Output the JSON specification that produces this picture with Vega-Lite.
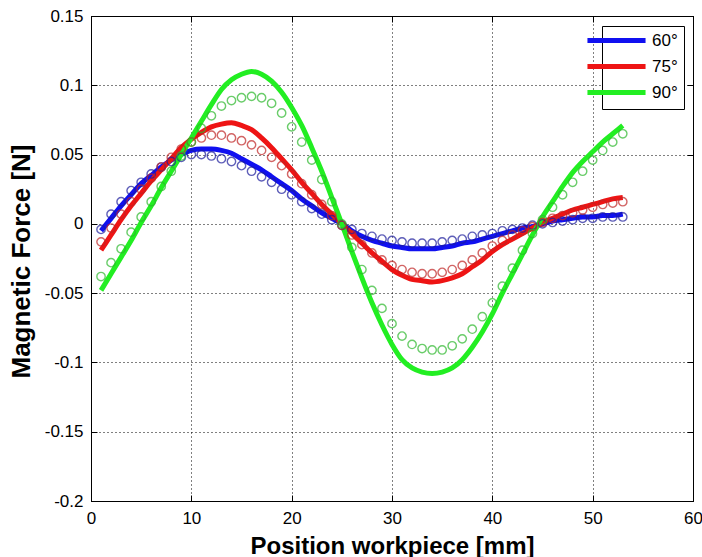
{
  "$schema": "https://vega.github.io/schema/vega-lite/v6.json",
  "width": 602,
  "height": 485,
  "autosize": {"type": "none"},
  "padding": {"left": 91, "top": 16, "right": 9, "bottom": 56},
  "background": "white",
  "config": {
    "font": "Liberation Sans",
    "view": {"stroke": "black", "strokeWidth": 1},
    "axis": {
      "domainColor": "black",
      "tickColor": "black",
      "labelColor": "black",
      "titleColor": "black",
      "labelFont": "Liberation Sans",
      "titleFont": "Liberation Sans"
    }
  },
  "datasets": {
    "lines": [
      {"x":1,"y":-0.005,"a":"60°"},{"x":2,"y":0.004,"a":"60°"},{"x":3,"y":0.013,"a":"60°"},{"x":4,"y":0.021,"a":"60°"},{"x":5,"y":0.029,"a":"60°"},{"x":6,"y":0.035,"a":"60°"},{"x":7,"y":0.041,"a":"60°"},{"x":8,"y":0.046,"a":"60°"},{"x":9,"y":0.050,"a":"60°"},{"x":10,"y":0.053,"a":"60°"},{"x":11,"y":0.054,"a":"60°"},{"x":12,"y":0.054,"a":"60°"},{"x":13,"y":0.053,"a":"60°"},{"x":14,"y":0.051,"a":"60°"},{"x":15,"y":0.047,"a":"60°"},{"x":16,"y":0.043,"a":"60°"},{"x":17,"y":0.039,"a":"60°"},{"x":18,"y":0.034,"a":"60°"},{"x":19,"y":0.029,"a":"60°"},{"x":20,"y":0.024,"a":"60°"},{"x":21,"y":0.018,"a":"60°"},{"x":22,"y":0.013,"a":"60°"},{"x":23,"y":0.008,"a":"60°"},{"x":24,"y":0.004,"a":"60°"},{"x":25,"y":0.000,"a":"60°"},{"x":26,"y":-0.005,"a":"60°"},{"x":27,"y":-0.009,"a":"60°"},{"x":28,"y":-0.012,"a":"60°"},{"x":29,"y":-0.014,"a":"60°"},{"x":30,"y":-0.016,"a":"60°"},{"x":31,"y":-0.017,"a":"60°"},{"x":32,"y":-0.018,"a":"60°"},{"x":33,"y":-0.018,"a":"60°"},{"x":34,"y":-0.018,"a":"60°"},{"x":35,"y":-0.017,"a":"60°"},{"x":36,"y":-0.016,"a":"60°"},{"x":37,"y":-0.014,"a":"60°"},{"x":38,"y":-0.013,"a":"60°"},{"x":39,"y":-0.011,"a":"60°"},{"x":40,"y":-0.009,"a":"60°"},{"x":41,"y":-0.007,"a":"60°"},{"x":42,"y":-0.005,"a":"60°"},{"x":43,"y":-0.003,"a":"60°"},{"x":44,"y":-0.002,"a":"60°"},{"x":45,"y":0.000,"a":"60°"},{"x":46,"y":0.002,"a":"60°"},{"x":47,"y":0.003,"a":"60°"},{"x":48,"y":0.004,"a":"60°"},{"x":49,"y":0.005,"a":"60°"},{"x":50,"y":0.005,"a":"60°"},{"x":51,"y":0.006,"a":"60°"},{"x":52,"y":0.006,"a":"60°"},{"x":53,"y":0.007,"a":"60°"},
      {"x":1,"y":-0.019,"a":"75°"},{"x":2,"y":-0.008,"a":"75°"},{"x":3,"y":0.003,"a":"75°"},{"x":4,"y":0.013,"a":"75°"},{"x":5,"y":0.022,"a":"75°"},{"x":6,"y":0.031,"a":"75°"},{"x":7,"y":0.039,"a":"75°"},{"x":8,"y":0.047,"a":"75°"},{"x":9,"y":0.055,"a":"75°"},{"x":10,"y":0.061,"a":"75°"},{"x":11,"y":0.066,"a":"75°"},{"x":12,"y":0.070,"a":"75°"},{"x":13,"y":0.072,"a":"75°"},{"x":14,"y":0.073,"a":"75°"},{"x":15,"y":0.071,"a":"75°"},{"x":16,"y":0.068,"a":"75°"},{"x":17,"y":0.062,"a":"75°"},{"x":18,"y":0.055,"a":"75°"},{"x":19,"y":0.047,"a":"75°"},{"x":20,"y":0.039,"a":"75°"},{"x":21,"y":0.030,"a":"75°"},{"x":22,"y":0.022,"a":"75°"},{"x":23,"y":0.014,"a":"75°"},{"x":24,"y":0.007,"a":"75°"},{"x":25,"y":0.000,"a":"75°"},{"x":26,"y":-0.007,"a":"75°"},{"x":27,"y":-0.014,"a":"75°"},{"x":28,"y":-0.021,"a":"75°"},{"x":29,"y":-0.027,"a":"75°"},{"x":30,"y":-0.033,"a":"75°"},{"x":31,"y":-0.037,"a":"75°"},{"x":32,"y":-0.040,"a":"75°"},{"x":33,"y":-0.041,"a":"75°"},{"x":34,"y":-0.042,"a":"75°"},{"x":35,"y":-0.041,"a":"75°"},{"x":36,"y":-0.039,"a":"75°"},{"x":37,"y":-0.036,"a":"75°"},{"x":38,"y":-0.031,"a":"75°"},{"x":39,"y":-0.026,"a":"75°"},{"x":40,"y":-0.020,"a":"75°"},{"x":41,"y":-0.015,"a":"75°"},{"x":42,"y":-0.011,"a":"75°"},{"x":43,"y":-0.007,"a":"75°"},{"x":44,"y":-0.003,"a":"75°"},{"x":45,"y":0.001,"a":"75°"},{"x":46,"y":0.004,"a":"75°"},{"x":47,"y":0.007,"a":"75°"},{"x":48,"y":0.010,"a":"75°"},{"x":49,"y":0.012,"a":"75°"},{"x":50,"y":0.014,"a":"75°"},{"x":51,"y":0.016,"a":"75°"},{"x":52,"y":0.018,"a":"75°"},{"x":53,"y":0.019,"a":"75°"},
      {"x":1,"y":-0.048,"a":"90°"},{"x":2,"y":-0.036,"a":"90°"},{"x":3,"y":-0.024,"a":"90°"},{"x":4,"y":-0.012,"a":"90°"},{"x":5,"y":0.001,"a":"90°"},{"x":6,"y":0.013,"a":"90°"},{"x":7,"y":0.026,"a":"90°"},{"x":8,"y":0.038,"a":"90°"},{"x":9,"y":0.050,"a":"90°"},{"x":10,"y":0.062,"a":"90°"},{"x":11,"y":0.074,"a":"90°"},{"x":12,"y":0.086,"a":"90°"},{"x":13,"y":0.097,"a":"90°"},{"x":14,"y":0.104,"a":"90°"},{"x":15,"y":0.108,"a":"90°"},{"x":16,"y":0.110,"a":"90°"},{"x":17,"y":0.108,"a":"90°"},{"x":18,"y":0.103,"a":"90°"},{"x":19,"y":0.095,"a":"90°"},{"x":20,"y":0.084,"a":"90°"},{"x":21,"y":0.071,"a":"90°"},{"x":22,"y":0.055,"a":"90°"},{"x":23,"y":0.038,"a":"90°"},{"x":24,"y":0.019,"a":"90°"},{"x":25,"y":0.000,"a":"90°"},{"x":26,"y":-0.020,"a":"90°"},{"x":27,"y":-0.039,"a":"90°"},{"x":28,"y":-0.057,"a":"90°"},{"x":29,"y":-0.073,"a":"90°"},{"x":30,"y":-0.087,"a":"90°"},{"x":31,"y":-0.098,"a":"90°"},{"x":32,"y":-0.104,"a":"90°"},{"x":33,"y":-0.107,"a":"90°"},{"x":34,"y":-0.108,"a":"90°"},{"x":35,"y":-0.107,"a":"90°"},{"x":36,"y":-0.104,"a":"90°"},{"x":37,"y":-0.098,"a":"90°"},{"x":38,"y":-0.089,"a":"90°"},{"x":39,"y":-0.078,"a":"90°"},{"x":40,"y":-0.065,"a":"90°"},{"x":41,"y":-0.050,"a":"90°"},{"x":42,"y":-0.036,"a":"90°"},{"x":43,"y":-0.022,"a":"90°"},{"x":44,"y":-0.008,"a":"90°"},{"x":45,"y":0.005,"a":"90°"},{"x":46,"y":0.016,"a":"90°"},{"x":47,"y":0.027,"a":"90°"},{"x":48,"y":0.037,"a":"90°"},{"x":49,"y":0.045,"a":"90°"},{"x":50,"y":0.052,"a":"90°"},{"x":51,"y":0.059,"a":"90°"},{"x":52,"y":0.065,"a":"90°"},{"x":53,"y":0.071,"a":"90°"}
    ],
    "circles": [
      {"x":1,"y":-0.004,"a":"60°"},{"x":2,"y":0.007,"a":"60°"},{"x":3,"y":0.016,"a":"60°"},{"x":4,"y":0.024,"a":"60°"},{"x":5,"y":0.030,"a":"60°"},{"x":6,"y":0.036,"a":"60°"},{"x":7,"y":0.041,"a":"60°"},{"x":8,"y":0.045,"a":"60°"},{"x":9,"y":0.048,"a":"60°"},{"x":10,"y":0.050,"a":"60°"},{"x":11,"y":0.050,"a":"60°"},{"x":12,"y":0.049,"a":"60°"},{"x":13,"y":0.047,"a":"60°"},{"x":14,"y":0.045,"a":"60°"},{"x":15,"y":0.042,"a":"60°"},{"x":16,"y":0.038,"a":"60°"},{"x":17,"y":0.034,"a":"60°"},{"x":18,"y":0.030,"a":"60°"},{"x":19,"y":0.025,"a":"60°"},{"x":20,"y":0.021,"a":"60°"},{"x":21,"y":0.016,"a":"60°"},{"x":22,"y":0.011,"a":"60°"},{"x":23,"y":0.007,"a":"60°"},{"x":24,"y":0.003,"a":"60°"},{"x":25,"y":-0.001,"a":"60°"},{"x":26,"y":-0.004,"a":"60°"},{"x":27,"y":-0.007,"a":"60°"},{"x":28,"y":-0.009,"a":"60°"},{"x":29,"y":-0.011,"a":"60°"},{"x":30,"y":-0.012,"a":"60°"},{"x":31,"y":-0.013,"a":"60°"},{"x":32,"y":-0.014,"a":"60°"},{"x":33,"y":-0.014,"a":"60°"},{"x":34,"y":-0.014,"a":"60°"},{"x":35,"y":-0.013,"a":"60°"},{"x":36,"y":-0.012,"a":"60°"},{"x":37,"y":-0.011,"a":"60°"},{"x":38,"y":-0.009,"a":"60°"},{"x":39,"y":-0.008,"a":"60°"},{"x":40,"y":-0.007,"a":"60°"},{"x":41,"y":-0.005,"a":"60°"},{"x":42,"y":-0.004,"a":"60°"},{"x":43,"y":-0.003,"a":"60°"},{"x":44,"y":-0.001,"a":"60°"},{"x":45,"y":0.000,"a":"60°"},{"x":46,"y":0.001,"a":"60°"},{"x":47,"y":0.002,"a":"60°"},{"x":48,"y":0.003,"a":"60°"},{"x":49,"y":0.004,"a":"60°"},{"x":50,"y":0.004,"a":"60°"},{"x":51,"y":0.005,"a":"60°"},{"x":52,"y":0.005,"a":"60°"},{"x":53,"y":0.005,"a":"60°"},
      {"x":1,"y":-0.013,"a":"75°"},{"x":2,"y":-0.003,"a":"75°"},{"x":3,"y":0.007,"a":"75°"},{"x":4,"y":0.016,"a":"75°"},{"x":5,"y":0.025,"a":"75°"},{"x":6,"y":0.033,"a":"75°"},{"x":7,"y":0.041,"a":"75°"},{"x":8,"y":0.048,"a":"75°"},{"x":9,"y":0.054,"a":"75°"},{"x":10,"y":0.059,"a":"75°"},{"x":11,"y":0.062,"a":"75°"},{"x":12,"y":0.064,"a":"75°"},{"x":13,"y":0.064,"a":"75°"},{"x":14,"y":0.062,"a":"75°"},{"x":15,"y":0.060,"a":"75°"},{"x":16,"y":0.057,"a":"75°"},{"x":17,"y":0.053,"a":"75°"},{"x":18,"y":0.048,"a":"75°"},{"x":19,"y":0.042,"a":"75°"},{"x":20,"y":0.036,"a":"75°"},{"x":21,"y":0.029,"a":"75°"},{"x":22,"y":0.021,"a":"75°"},{"x":23,"y":0.014,"a":"75°"},{"x":24,"y":0.006,"a":"75°"},{"x":25,"y":-0.001,"a":"75°"},{"x":26,"y":-0.008,"a":"75°"},{"x":27,"y":-0.015,"a":"75°"},{"x":28,"y":-0.021,"a":"75°"},{"x":29,"y":-0.026,"a":"75°"},{"x":30,"y":-0.030,"a":"75°"},{"x":31,"y":-0.033,"a":"75°"},{"x":32,"y":-0.035,"a":"75°"},{"x":33,"y":-0.036,"a":"75°"},{"x":34,"y":-0.036,"a":"75°"},{"x":35,"y":-0.035,"a":"75°"},{"x":36,"y":-0.033,"a":"75°"},{"x":37,"y":-0.030,"a":"75°"},{"x":38,"y":-0.026,"a":"75°"},{"x":39,"y":-0.021,"a":"75°"},{"x":40,"y":-0.016,"a":"75°"},{"x":41,"y":-0.012,"a":"75°"},{"x":42,"y":-0.008,"a":"75°"},{"x":43,"y":-0.005,"a":"75°"},{"x":44,"y":-0.002,"a":"75°"},{"x":45,"y":0.001,"a":"75°"},{"x":46,"y":0.004,"a":"75°"},{"x":47,"y":0.006,"a":"75°"},{"x":48,"y":0.008,"a":"75°"},{"x":49,"y":0.010,"a":"75°"},{"x":50,"y":0.012,"a":"75°"},{"x":51,"y":0.014,"a":"75°"},{"x":52,"y":0.015,"a":"75°"},{"x":53,"y":0.016,"a":"75°"},
      {"x":1,"y":-0.038,"a":"90°"},{"x":2,"y":-0.028,"a":"90°"},{"x":3,"y":-0.018,"a":"90°"},{"x":4,"y":-0.006,"a":"90°"},{"x":5,"y":0.005,"a":"90°"},{"x":6,"y":0.016,"a":"90°"},{"x":7,"y":0.027,"a":"90°"},{"x":8,"y":0.038,"a":"90°"},{"x":9,"y":0.049,"a":"90°"},{"x":10,"y":0.059,"a":"90°"},{"x":11,"y":0.069,"a":"90°"},{"x":12,"y":0.078,"a":"90°"},{"x":13,"y":0.085,"a":"90°"},{"x":14,"y":0.089,"a":"90°"},{"x":15,"y":0.091,"a":"90°"},{"x":16,"y":0.092,"a":"90°"},{"x":17,"y":0.091,"a":"90°"},{"x":18,"y":0.087,"a":"90°"},{"x":19,"y":0.080,"a":"90°"},{"x":20,"y":0.070,"a":"90°"},{"x":21,"y":0.059,"a":"90°"},{"x":22,"y":0.046,"a":"90°"},{"x":23,"y":0.032,"a":"90°"},{"x":24,"y":0.016,"a":"90°"},{"x":25,"y":0.000,"a":"90°"},{"x":26,"y":-0.017,"a":"90°"},{"x":27,"y":-0.033,"a":"90°"},{"x":28,"y":-0.048,"a":"90°"},{"x":29,"y":-0.061,"a":"90°"},{"x":30,"y":-0.072,"a":"90°"},{"x":31,"y":-0.081,"a":"90°"},{"x":32,"y":-0.087,"a":"90°"},{"x":33,"y":-0.090,"a":"90°"},{"x":34,"y":-0.091,"a":"90°"},{"x":35,"y":-0.091,"a":"90°"},{"x":36,"y":-0.088,"a":"90°"},{"x":37,"y":-0.083,"a":"90°"},{"x":38,"y":-0.076,"a":"90°"},{"x":39,"y":-0.067,"a":"90°"},{"x":40,"y":-0.057,"a":"90°"},{"x":41,"y":-0.045,"a":"90°"},{"x":42,"y":-0.032,"a":"90°"},{"x":43,"y":-0.019,"a":"90°"},{"x":44,"y":-0.007,"a":"90°"},{"x":45,"y":0.003,"a":"90°"},{"x":46,"y":0.012,"a":"90°"},{"x":47,"y":0.021,"a":"90°"},{"x":48,"y":0.030,"a":"90°"},{"x":49,"y":0.038,"a":"90°"},{"x":50,"y":0.046,"a":"90°"},{"x":51,"y":0.053,"a":"90°"},{"x":52,"y":0.059,"a":"90°"},{"x":53,"y":0.065,"a":"90°"}
    ]
  },
  "layer": [
    {
      "data": {"name": "lines"},
      "mark": {"type": "line", "strokeWidth": 5, "interpolate": "monotone"},
      "encoding": {
        "x": {
          "field": "x", "type": "quantitative",
          "scale": {"domain": [0, 60], "nice": false, "zero": false},
          "axis": {
            "orient": "bottom",
            "values": [0, 10, 20, 30, 40, 50, 60],
            "grid": true, "gridColor": "black", "gridDash": [1, 3], "gridOpacity": 1, "gridWidth": 1,
            "tickSize": -6, "labelPadding": 15, "labelFontSize": 17, "labelFlush": false,
            "title": "Position workpiece [mm]", "titleFontSize": 24, "titleFontWeight": "bold",
            "titleY": 52, "titleBaseline": "alphabetic"
          }
        },
        "y": {
          "field": "y", "type": "quantitative",
          "scale": {"domain": [-0.2, 0.15], "nice": false, "zero": false},
          "axis": {
            "orient": "left",
            "values": [-0.2, -0.15, -0.1, -0.05, 0, 0.05, 0.1, 0.15],
            "labelExpr": "toString(datum.value)",
            "grid": true, "gridColor": "black", "gridDash": [1, 3], "gridOpacity": 1, "gridWidth": 1,
            "tickSize": -6, "labelPadding": 14, "labelFontSize": 17, "labelFlush": false,
            "title": "Magnetic Force [N]", "titleFontSize": 26, "titleFontWeight": "bold",
            "titleX": -62, "titleY": 245, "titleBaseline": "alphabetic", "titleAngle": 270
          }
        },
        "color": {
          "field": "a", "type": "nominal",
          "scale": {"domain": ["60°", "75°", "90°"], "range": ["#1010f0", "#ee1414", "#22ee22"]},
          "legend": {
            "orient": "none", "legendX": 511, "legendY": 10,
            "title": null, "symbolType": "M-5,0H5", "symbolStrokeWidth": 5, "symbolSize": 135,
            "labelFontSize": 17, "labelColor": "black", "labelOffset": 27, "rowPadding": 5,
            "strokeColor": "black", "fillColor": "white", "padding": 6, "cornerRadius": 0
          }
        }
      }
    },
    {
      "data": {"name": "circles"},
      "mark": {"type": "point", "shape": "circle", "filled": false, "size": 70, "strokeWidth": 1.4},
      "encoding": {
        "x": {
          "field": "x", "type": "quantitative",
          "axis": {"orient": "top", "values": [0, 10, 20, 30, 40, 50, 60], "labels": false, "title": null, "grid": false, "tickSize": -6}
        },
        "y": {
          "field": "y", "type": "quantitative",
          "axis": {"orient": "right", "values": [-0.2, -0.15, -0.1, -0.05, 0, 0.05, 0.1, 0.15], "labels": false, "title": null, "grid": false, "tickSize": -6}
        },
        "stroke": {
          "field": "a", "type": "nominal",
          "scale": {"domain": ["60°", "75°", "90°"], "range": ["#1c1c9c", "#c02424", "#2cb82c"]},
          "legend": null
        }
      }
    }
  ],
  "resolve": {"axis": {"x": "independent", "y": "independent"}}
}
